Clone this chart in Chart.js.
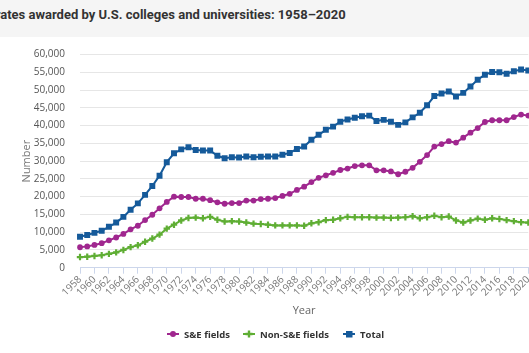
<!DOCTYPE html>
<html><head><meta charset="utf-8">
<script src="https://cdn.jsdelivr.net/npm/chart.js@4.4.1/dist/chart.umd.min.js"></script>
<style>
html,body{margin:0;padding:0;background:#fff;width:529px;height:353px;overflow:hidden;font-family:'Open Sans',sans-serif;}
#title{position:absolute;left:0;top:0;width:529px;height:37px;background:#f5f5f5;overflow:hidden;}
#title span{position:absolute;left:-38.5px;top:7px;font:bold 13px Roboto,sans-serif;color:#333;white-space:nowrap;}
#wrap{position:absolute;left:0;top:37px;width:529px;height:290px;}
#legend{position:absolute;top:326px;left:0;width:529px;height:16px;font:bold 9.5px 'Open Sans',sans-serif;color:#333;}
.item{position:absolute;top:0;height:16px;display:flex;align-items:center;white-space:nowrap;}
.item svg{margin-right:5px;}
</style></head>
<body>
<div id="title"><span>Doctorates awarded by U.S. colleges and universities: 1958–2020</span></div>
<div id="wrap"><canvas id="c"></canvas></div>
<div id="legend"></div>
<script>
const years = ['1958','1959','1960','1961','1962','1963','1964','1965','1966','1967','1968','1969','1970','1971','1972','1973','1974','1975','1976','1977','1978','1979','1980','1981','1982','1983','1984','1985','1986','1987','1988','1989','1990','1991','1992','1993','1994','1995','1996','1997','1998','1999','2000','2001','2002','2003','2004','2005','2006','2007','2008','2009','2010','2011','2012','2013','2014','2015','2016','2017','2018','2019','2020'];
const seFields = [5750,6000,6400,6900,7700,8500,9500,10800,11800,13400,
  14900,16700,18500,20000,19900,19900,19400,19400,19000,18400,
  18000,18200,18200,18900,18900,19300,19400,19600,20200,20800,
  21900,22800,24100,25300,26000,26700,27500,27900,28600,28800,
  28800,27400,27400,27100,26300,27000,28100,29800,31700,34100,
  34800,35600,35200,36600,38000,39300,41000,41500,41500,41500,
  42400,43100,42800];
const nonSeFields = [3000,3100,3300,3500,3900,4300,5000,5800,6300,7300,
  8200,9300,11000,12100,13300,14000,14100,13900,14300,13500,
  13000,13100,13000,12700,12400,12300,12100,11900,11900,11900,
  11900,11800,12500,12800,13400,13500,13900,14300,14200,14200,
  14200,14100,14100,14000,14100,14200,14500,13900,14200,14600,
  14200,14400,13300,12700,13300,13800,13500,13900,13700,13400,
  13100,12800,12700];
const total = [8700,9200,9800,10400,11500,12700,14300,16300,18100,20500,
  23000,25900,29700,32200,33300,33900,33100,33000,33000,31500,
  30800,31100,31000,31300,31100,31200,31300,31300,31800,32300,
  33400,34100,36000,37400,38800,39700,41100,41700,42200,42600,
  42800,41300,41600,41100,40200,40900,42300,43600,45700,48300,
  49000,49600,48200,49200,51000,52900,54300,55100,55000,54600,
  55300,55800,55500];
const seriesNames = ['S&E fields','Non-S&E fields','Total'];
const colors = ['#a0278f','#5fae34','#155a9a'];
const yTicks = {min:0, max:60000, step:5000};

const mk = (label, data, color, style, r, bw) => ({
  label, data, borderColor: color, backgroundColor: color,
  borderWidth: 2, pointStyle: style, pointRadius: r, pointHoverRadius: r,
  pointBorderColor: color, pointBackgroundColor: color, pointBorderWidth: bw,
  tension: 0, fill: false
});

new Chart(document.getElementById('c'), {
  type: 'line',
  data: {
    labels: years,
    datasets: [
      mk(seriesNames[0], seFields, colors[0], 'circle', 2.9, 0),
      mk(seriesNames[1], nonSeFields, colors[1], 'cross', 3.2, 2.2),
      mk(seriesNames[2], total, colors[2], 'rect', 4.2, 0)
    ]
  },
  options: {
    responsive: true, maintainAspectRatio: false, animation: false,
    layout: {autoPadding: false, padding: {top: 17.5, right: 0.7, left: 0, bottom: 0}},
    plugins: {legend: {display: false}, tooltip: {enabled: false}, title: {display: false}},
    scales: {
      x: {
        grid: {drawOnChartArea: false, drawTicks: true, tickLength: 6, color: '#ccd6eb', tickColor: '#ccd6eb'},
        border: {display: true, color: '#ccd6eb', width: 1},
        afterBuildTicks: s => { s.ticks = s.ticks.filter((t, i) => i % 2 === 0); },
        afterFit: s => { s.height = 59.3; s.paddingRight = 0; s.paddingLeft = 0; },
        ticks: {autoSkip: false, maxRotation: 45, minRotation: 45, padding: 0,
          color: '#777', font: {family: "'Open Sans'", size: 10}},
        title: {display: true, text: 'Year', color: '#666', padding: {top: 0, bottom: 10},
          font: {family: "'Open Sans'", size: 11}}
      },
      y: {
        min: yTicks.min, max: yTicks.max,
        afterFit: s => { s.width = 80; s.paddingTop = 0; s.paddingBottom = 0; },
        grid: {color: '#e6e6e6', drawTicks: false, lineWidth: 1},
        border: {display: false},
        ticks: {stepSize: yTicks.step, padding: 15, color: '#555',
          font: {family: "'Open Sans'", size: 10},
          callback: v => v.toLocaleString('en-US')},
        title: {display: true, text: 'Number', color: '#777', padding: {top: 20, bottom: 0},
          font: {family: "'Open Sans'", size: 11}}
      }
    }
  }
});

// legend
const legendPos = [167, 243, 343];
const styles = ['circle', 'cross', 'rect'];
const lg = document.getElementById('legend');
seriesNames.forEach((n, i) => {
  const c = colors[i];
  let m = '';
  if (styles[i] === 'circle') m = `<circle cx="6" cy="5" r="3" fill="${c}"/>`;
  else if (styles[i] === 'rect') m = `<rect x="3" y="2" width="6.5" height="6.5" fill="${c}"/>`;
  else m = `<path d="M6 1.5 V8.5 M2.5 5 H9.5" stroke="${c}" stroke-width="2.4"/>`;
  const d = document.createElement('div');
  d.className = 'item';
  d.style.left = legendPos[i] + 'px';
  d.innerHTML = `<svg width="12" height="10"><line x1="0" y1="5" x2="12" y2="5" stroke="${c}" stroke-width="2"/>${m}</svg><span></span>`;
  d.querySelector('span').textContent = n;
  lg.appendChild(d);
});
</script>
</body></html>
